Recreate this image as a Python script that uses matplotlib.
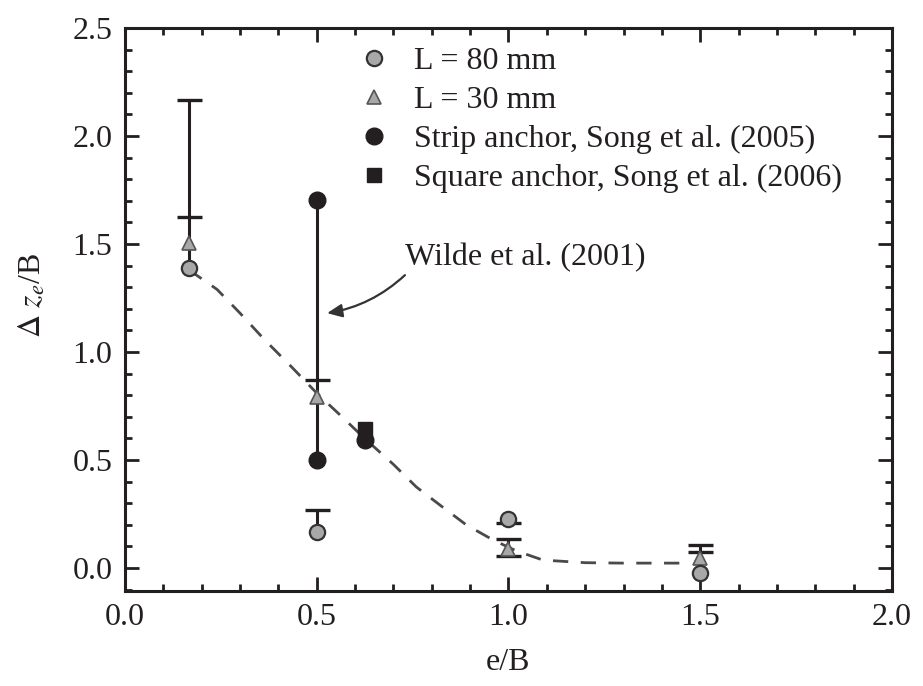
import matplotlib
matplotlib.use("Agg")
import matplotlib.pyplot as plt
from matplotlib.ticker import MultipleLocator, FormatStrFormatter

plt.rcParams['font.family'] = ['Liberation Serif', 'DejaVu Serif']
plt.rcParams['mathtext.fontset'] = 'stix'

INK = '#231f20'

# ---- data ----
l80_x = [0.167, 0.5, 1.0, 1.5]
l80_y = [1.389, 0.167, 0.227, -0.023]

l30_x = [0.167, 0.5, 1.0, 1.5]
l30_y = [1.505, 0.79, 0.09, 0.046]

strip_x = [0.5, 0.5, 0.625]
strip_y = [1.704, 0.50, 0.595]

square_x = [0.625]
square_y = [0.645]

# vertical range bars: x, low, high
bar_x = [0.167, 0.5, 0.5, 1.0, 1.5]
bar_lo = [1.389, 0.50, 0.167, 0.056, -0.023]
bar_hi = [2.167, 1.704, 0.269, 0.134, 0.106]

# cap positions
cap_x = [0.167, 0.167, 0.5, 0.5, 1.0, 1.0, 1.0, 1.5, 1.5]
cap_y = [2.167, 1.625, 0.870, 0.269, 0.208, 0.134, 0.056, 0.106, 0.074]

# dashed trend curve
trend_x = [0.167, 0.24, 0.30, 0.365, 0.435, 0.5, 0.56, 0.625, 0.70, 0.76,
           0.83, 0.89, 0.96, 1.02, 1.09, 1.2, 1.3, 1.45]
trend_y = [1.38, 1.29, 1.18, 1.055, 0.93, 0.81, 0.71, 0.60, 0.48, 0.375,
           0.28, 0.20, 0.13, 0.08, 0.037, 0.025, 0.023, 0.023]

labels = ['L = 80 mm', 'L = 30 mm',
          'Strip anchor, Song et al. (2005)',
          'Square anchor, Song et al. (2006)']
note_text = 'Wilde et al. (2001)'

fig = plt.figure(figsize=(9.23, 6.86), dpi=100)
ax = fig.add_axes([0.1354, 0.1385, 0.831, 0.8207])

FS = 23

ax.plot(trend_x, trend_y, color='#4a4a4a', lw=2.0, dashes=(5.5, 4.5), zorder=1)
ax.vlines(bar_x, bar_lo, bar_hi, color=INK, lw=2.2, zorder=2)
ax.plot(cap_x, cap_y, ls='none', marker='_', markersize=18, mew=2.4,
        color=INK, zorder=2)

h1, = ax.plot(l80_x, l80_y, ls='none', marker='o', ms=11, mfc='#a8a8a8',
              mec='#333333', mew=1.6, zorder=4, label=labels[0])
h2, = ax.plot(l30_x, l30_y, ls='none', marker='^', ms=10.5, mfc='#a8a8a8',
              mec='#555555', mew=1.2, zorder=3, label=labels[1])
h3, = ax.plot(strip_x, strip_y, ls='none', marker='o', ms=12, mfc=INK,
              mec=INK, zorder=4, label=labels[2])
h4, = ax.plot(square_x, square_y, ls='none', marker='s', ms=10.5, mfc=INK,
              mec=INK, zorder=3, label=labels[3])

ax.set_xlim(0.0, 2.0)
ax.set_ylim(-0.106, 2.5)
ax.xaxis.set_major_locator(MultipleLocator(0.5))
ax.xaxis.set_minor_locator(MultipleLocator(0.1))
ax.yaxis.set_major_locator(MultipleLocator(0.5))
ax.yaxis.set_minor_locator(MultipleLocator(0.1))
ax.xaxis.set_major_formatter(FormatStrFormatter('%.1f'))
ax.yaxis.set_major_formatter(FormatStrFormatter('%.1f'))

ax.tick_params(which='both', direction='in', top=True, right=True,
               colors=INK, labelsize=FS, width=2.0)
ax.tick_params(which='major', length=10, pad=9)
ax.tick_params(which='minor', length=5)
for s in ax.spines.values():
    s.set_linewidth(2.2)
    s.set_color(INK)

ax.set_xlabel('e/B', fontsize=FS, color=INK, labelpad=11)
ax.set_ylabel(r'$\Delta\ z_e$/B', fontsize=FS, color=INK)
ax.yaxis.set_label_coords(-0.100, 0.525)

leg = ax.legend(handles=[h1, h2, h3, h4], loc='upper left',
                bbox_to_anchor=(0.304, 0.966), frameon=False, fontsize=FS,
                handlelength=1.0, handletextpad=0.75, labelspacing=0.3,
                borderpad=0, borderaxespad=0, numpoints=1)
for t in leg.get_texts():
    t.set_color(INK)

ax.text(0.73, 1.435, note_text, fontsize=FS, color=INK, va='center', ha='left')
ax.annotate('', xy=(0.527, 1.18), xytext=(0.73, 1.356),
            arrowprops=dict(arrowstyle='-|>,head_length=0.45,head_width=0.2',
                            color='#333333', lw=1.6, mutation_scale=20,
                            connectionstyle='arc3,rad=-0.15',
                            shrinkA=0, shrinkB=0))

fig.savefig('out.png', dpi=100)
